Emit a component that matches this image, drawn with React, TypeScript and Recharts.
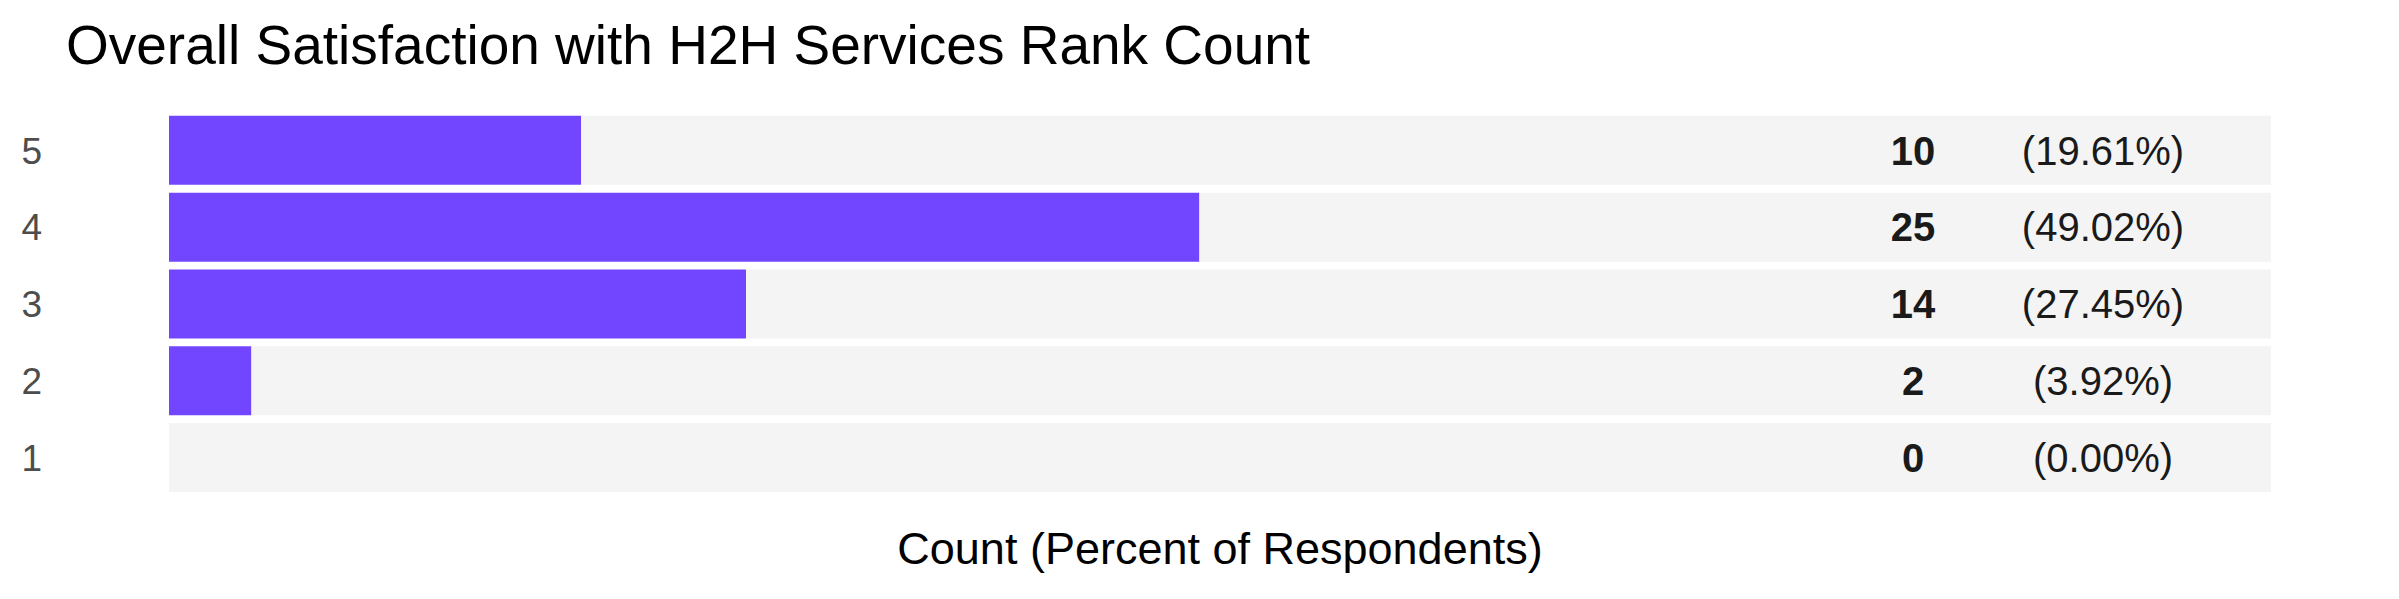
import { BarChart, Bar, XAxis, YAxis } from "recharts"

const ranks = ["5", "4", "3", "2", "1"]
const counts = [10, 25, 14, 2, 0]
const percents = ["19.61", "49.02", "27.45", "3.92", "0.00"]
const totalRespondents = 51

// remainder fills the grey track up to the total number of respondents
const data = ranks.map((rank, i) => ({ rank, count: counts[i], rest: totalRespondents - counts[i] }))

const font = "'Liberation Sans', Arial, Helvetica, sans-serif"

function CountTick(props: any) {
  const { x, y, index } = props
  return (
    <g>
      <text x={x - 358} y={y} dy="0.355em" textAnchor="middle" fontSize={40} fontWeight="bold" fill="#1a1a1a" fontFamily={font}>
        {counts[index]}
      </text>
      <text x={x - 168} y={y} dy="0.355em" textAnchor="middle" fontSize={40} fill="#1a1a1a" fontFamily={font}>
        ({percents[index]}%)
      </text>
    </g>
  )
}

export default function App() {
  return (
    <div style={{ position: "absolute", left: 0, top: 0, width: 2399, height: 599, background: "#fff", fontFamily: font }}>
      <div style={{ position: "absolute", left: 66, top: 13, fontSize: 55, color: "#000", whiteSpace: "nowrap" }}>
        Overall Satisfaction with H2H Services Rank Count
      </div>
      <BarChart
        width={2399}
        height={599}
        data={data}
        layout="vertical"
        margin={{ top: 112, right: 0, bottom: 0, left: 0 }}
        barCategoryGap="5%"
      >
        <XAxis
          type="number"
          domain={[0, totalRespondents]}
          tick={false}
          tickLine={false}
          axisLine={false}
          height={103}
          label={{ value: "Count (Percent of Respondents)", position: "insideTop", offset: 36, fontSize: 45, fill: "#000", fontFamily: font }}
        />
        <YAxis
          type="category"
          dataKey="rank"
          width={169}
          tickLine={false}
          axisLine={false}
          tickSize={0}
          tickMargin={127}
          tick={{ fontSize: 37, fill: "#4d4d4d", fontFamily: font }}
        />
        <YAxis
          yAxisId="right"
          orientation="right"
          type="category"
          dataKey="rank"
          width={128}
          tickLine={false}
          axisLine={false}
          tickSize={0}
          tickMargin={0}
          tick={<CountTick />}
        />
        <Bar dataKey="count" stackId="a" fill="#7246ff" isAnimationActive={false} />
        <Bar dataKey="rest" stackId="a" fill="#f4f4f4" isAnimationActive={false} />
      </BarChart>
    </div>
  )
}
